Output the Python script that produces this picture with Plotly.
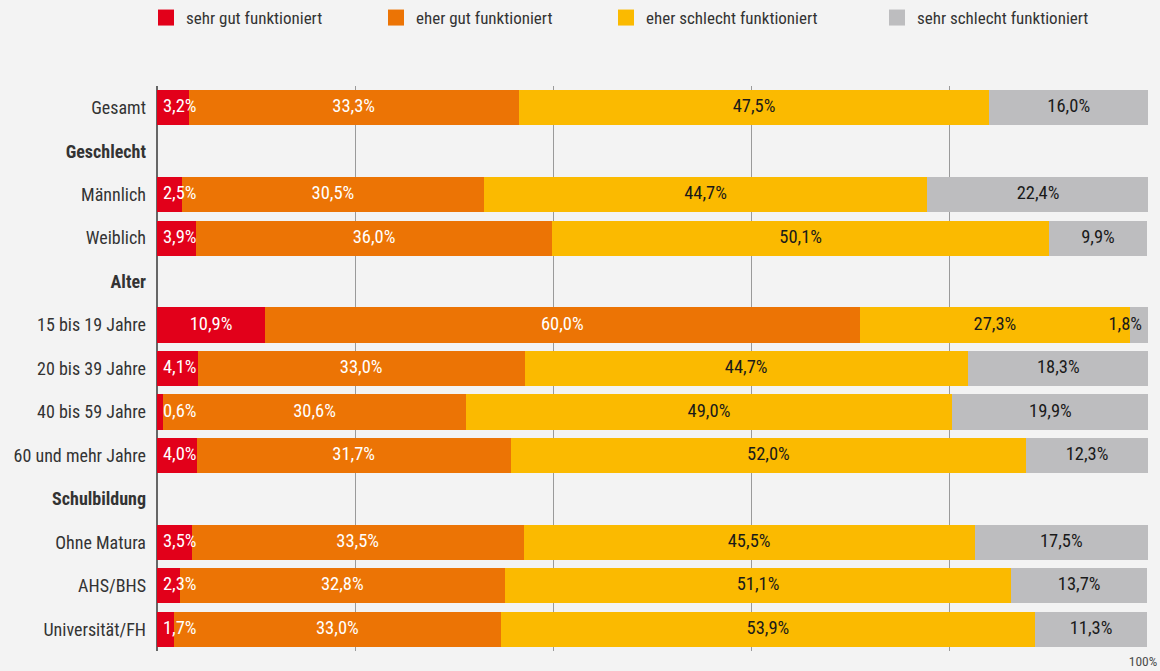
import plotly.graph_objects as go

categories = ["Gesamt", "Geschlecht", "Männlich", "Weiblich", "Alter",
              "15 bis 19 Jahre", "20 bis 39 Jahre", "40 bis 59 Jahre",
              "60 und mehr Jahre", "Schulbildung", "Ohne Matura", "AHS/BHS",
              "Universität/FH"]
headers = ["Geschlecht", "Alter", "Schulbildung"]

series_names = ["sehr gut funktioniert", "eher gut funktioniert",
                "eher schlecht funktioniert", "sehr schlecht funktioniert"]
sehr_gut = [3.2, None, 2.5, 3.9, None, 10.9, 4.1, 0.6, 4.0, None, 3.5, 2.3, 1.7]
eher_gut = [33.3, None, 30.5, 36.0, None, 60.0, 33.0, 30.6, 31.7, None, 33.5, 32.8, 33.0]
eher_schlecht = [47.5, None, 44.7, 50.1, None, 27.3, 44.7, 49.0, 52.0, None, 45.5, 51.1, 53.9]
sehr_schlecht = [16.0, None, 22.4, 9.9, None, 1.8, 18.3, 19.9, 12.3, None, 17.5, 13.7, 11.3]

colors = ["#e2001a", "#ec7405", "#fbba00", "#bdbdbf"]
text_colors = ["white", "white", "#1a1a1a", "#1a1a1a"]
FONT = "Roboto Condensed, Liberation Sans Narrow, Roboto, sans-serif"

fig = go.Figure()
all_series = [sehr_gut, eher_gut, eher_schlecht, sehr_schlecht]
starts = [0.0] * len(categories)
for k, (name, vals, col, tcol) in enumerate(zip(series_names, all_series, colors, text_colors)):
    fig.add_trace(go.Bar(
        y=categories, x=vals, orientation="h", name=name,
        marker=dict(color=col, line=dict(width=0)),
        showlegend=False, hoverinfo="skip",
    ))
    # label positions: segment midpoint, kept inside the plot for small pieces
    lx, ly, lt = [], [], []
    for i, v in enumerate(vals):
        if v is None:
            continue
        mid = starts[i] + v / 2
        mid = max(mid, starts[i] + 2.3)
        mid = min(mid, 100 - 2.3)
        lx.append(mid)
        ly.append(categories[i])
        lt.append(f"{v:.1f}%".replace(".", ","))
        starts[i] += v
    fig.add_trace(go.Scatter(
        x=lx, y=ly, text=lt, mode="text", showlegend=False, hoverinfo="skip",
        textfont=dict(color=tcol, size=18.5, family=FONT),
    ))
    # legend entry (last one goes to a second legend so it can sit further right)
    fig.add_trace(go.Scatter(
        x=[None], y=[None], mode="markers", name=name,
        marker=dict(symbol="square", size=16, color=col),
        legend="legend2" if k == 3 else "legend",
    ))

ticktext = [f"<b>{c}</b>" if c in headers else c for c in categories]

legend_common = dict(
    orientation="h", xref="container", yref="container",
    y=1.0, yanchor="top", xanchor="left",
    font=dict(size=17, color="#333333", family=FONT),
    bgcolor="rgba(0,0,0,0)",
    itemclick=False, itemdoubleclick=False,
)

fig.update_layout(
    barmode="stack",
    bargap=0.19,
    width=1160, height=671,
    margin=dict(l=157, r=12, t=86, b=20, autoexpand=False),
    paper_bgcolor="#f3f3f3",
    plot_bgcolor="#f3f3f3",
    font=dict(family=FONT, size=16, color="#333333"),
    legend=dict(legend_common, x=146 / 1160, traceorder="normal",
                entrywidth=185, entrywidthmode="pixels"),
    legend2=dict(legend_common, x=877 / 1160),
    xaxis=dict(
        range=[0, 100],
        tickvals=[0, 20, 40, 60, 80, 100],
        ticktext=["", "", "", "", "", "100%"],
        tickfont=dict(size=13.5, color="#4d4d4d", family=FONT),
        ticklabeloverflow="allow", ticklabelshift=-5, ticklabelstandoff=0,
        showgrid=True, gridcolor="#9a9a9a", gridwidth=1,
        zeroline=True, zerolinecolor="#666666", zerolinewidth=2,
        showline=False, fixedrange=True,
    ),
    yaxis=dict(
        categoryorder="array", categoryarray=categories,
        tickvals=categories, ticktext=ticktext,
        range=[len(categories) - 0.5, -0.5],
        ticks="", ticklabelstandoff=10,
        tickfont=dict(size=18, color="#333333"),
        showgrid=False, fixedrange=True, automargin=False,
    ),
)

fig.write_html("out.html", config={"displayModeBar": False},
               post_script="document.body.style.margin='0';")
